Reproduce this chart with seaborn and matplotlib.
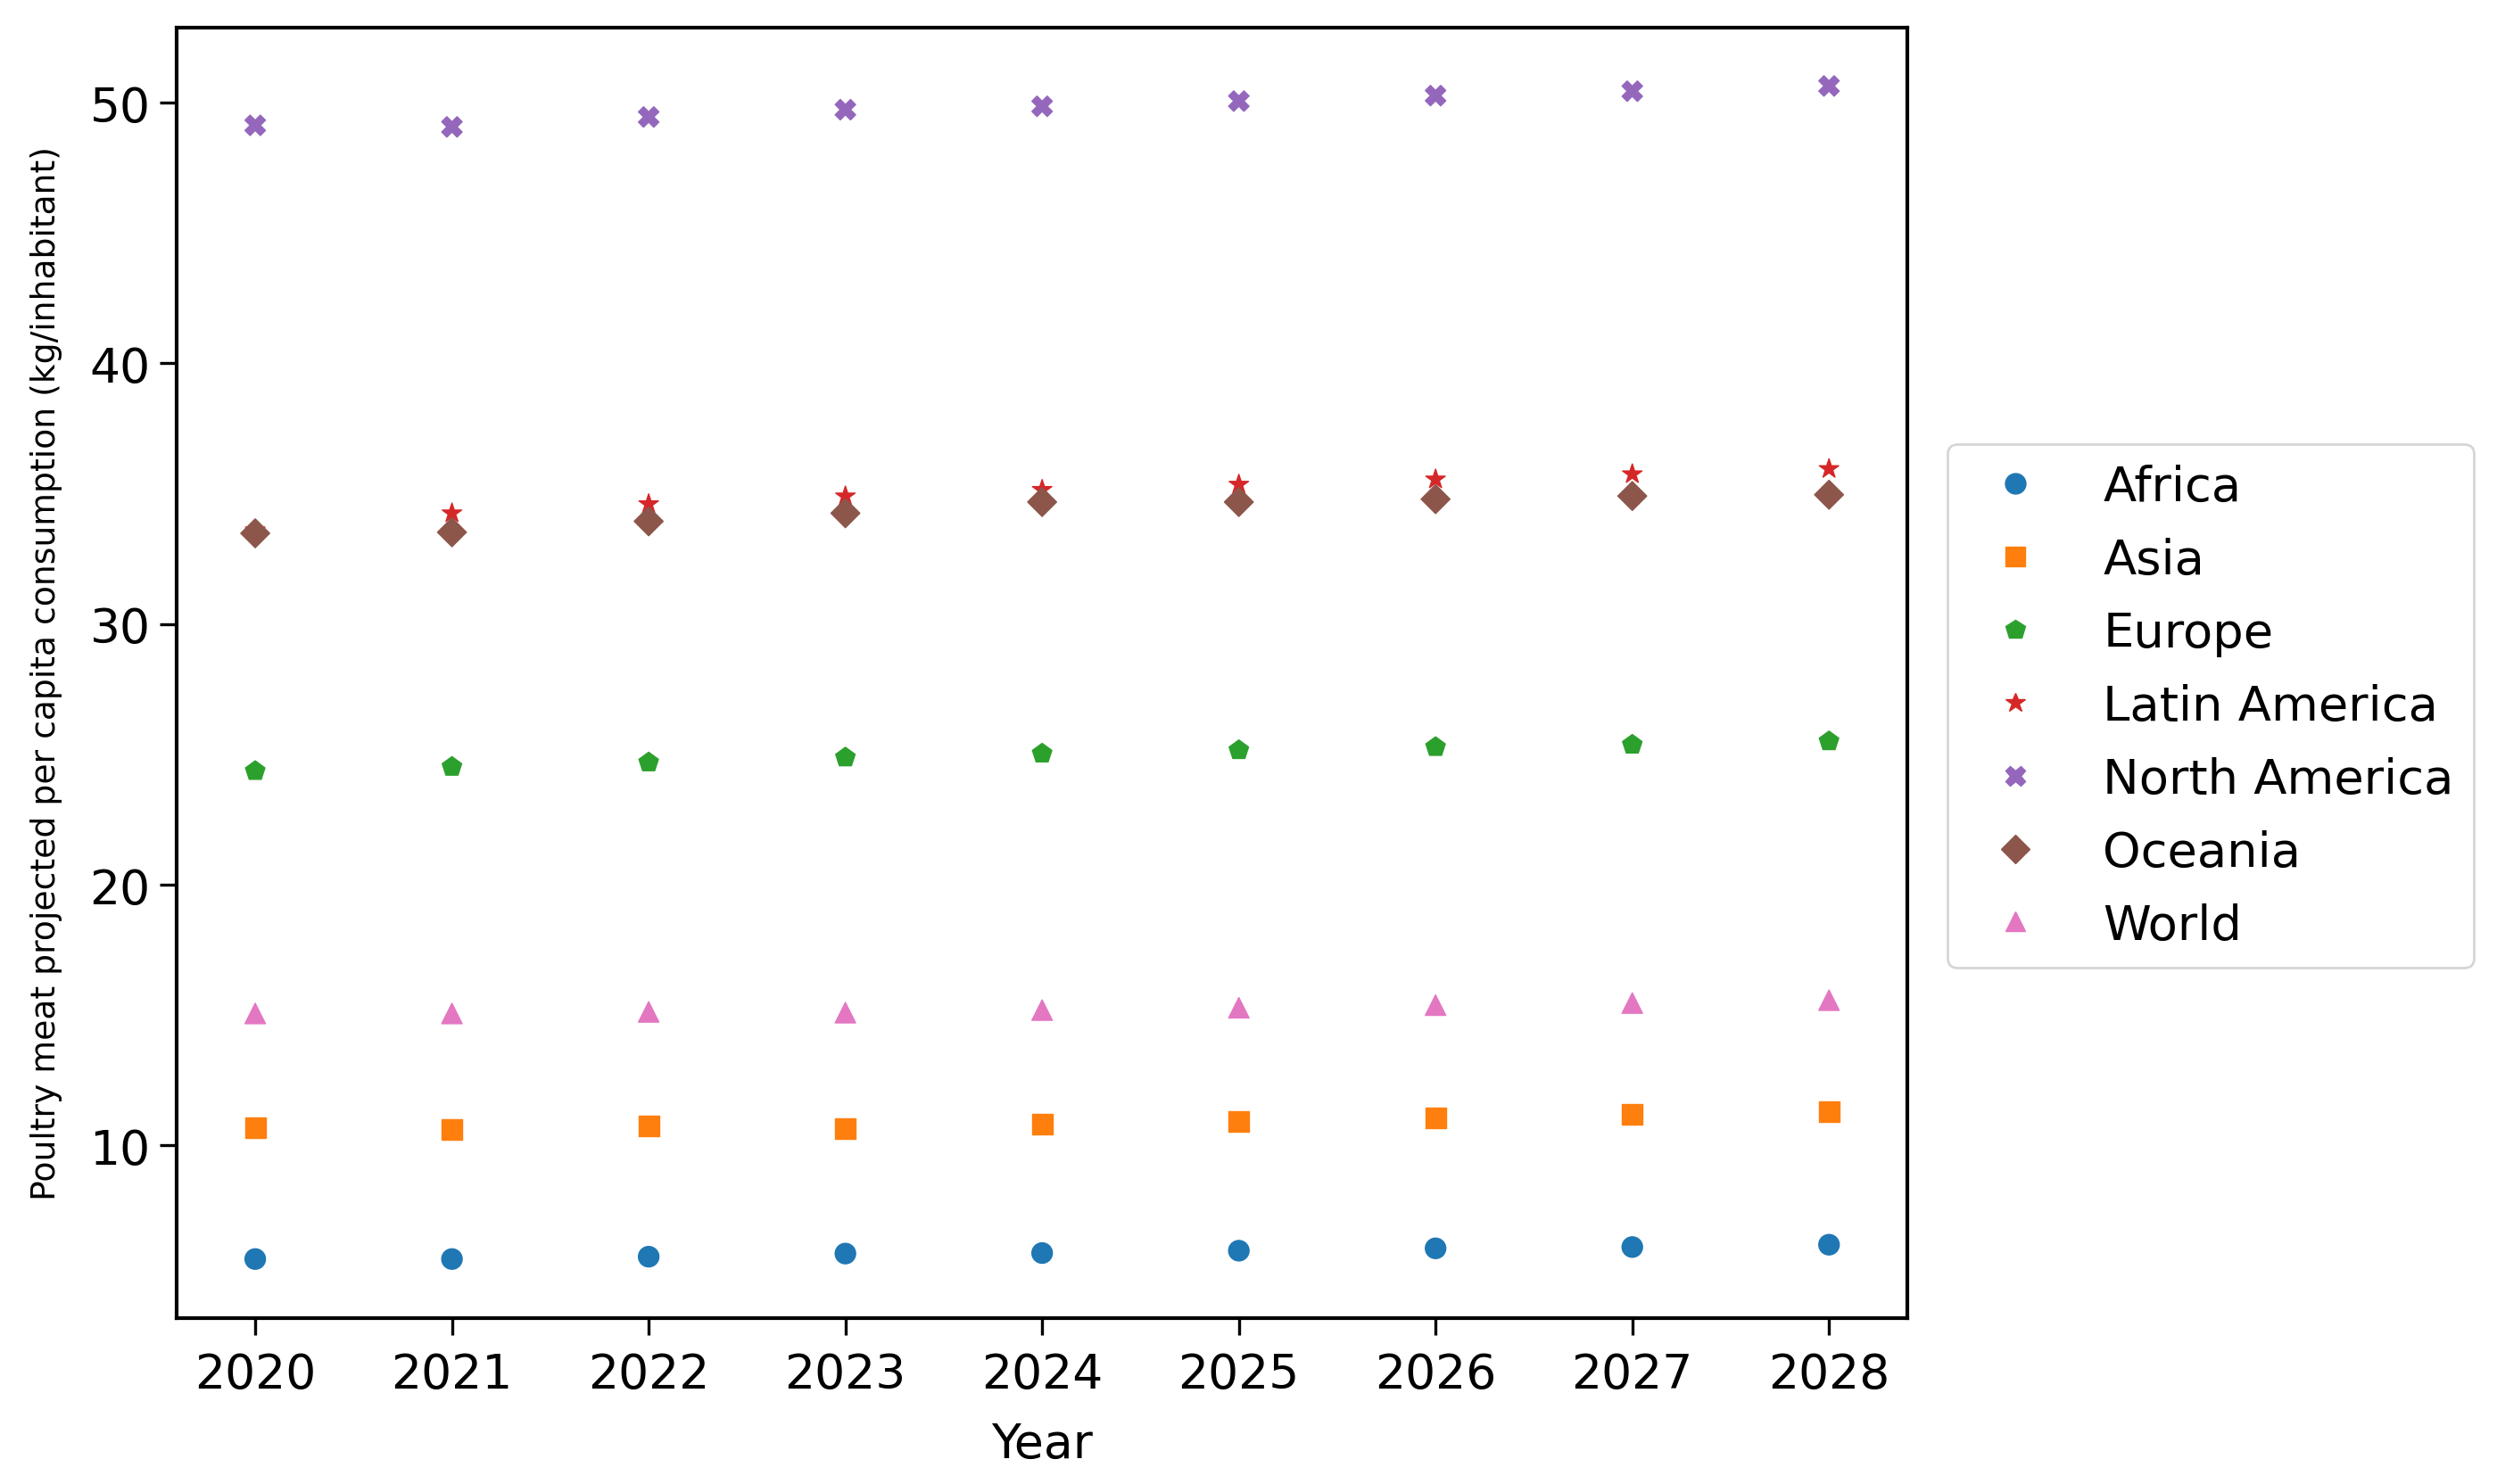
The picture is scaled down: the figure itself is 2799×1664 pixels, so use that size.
import matplotlib
matplotlib.use("Agg")
import matplotlib.pyplot as plt
import seaborn as sns
import pandas as pd

years = [2020, 2021, 2022, 2023, 2024, 2025, 2026, 2027, 2028]
regions = ["Africa", "Asia", "Europe", "Latin America", "North America", "Oceania", "World"]

africa = [5.64, 5.64, 5.73, 5.85, 5.87, 5.96, 6.05, 6.10, 6.19]
asia = [10.67, 10.62, 10.76, 10.64, 10.81, 10.93, 11.04, 11.19, 11.30]
europe = [24.36, 24.52, 24.69, 24.88, 25.03, 25.16, 25.28, 25.37, 25.50]
latin_america = [33.6, 34.25, 34.6, 34.9, 35.15, 35.35, 35.55, 35.75, 35.95]
north_america = [49.13, 49.07, 49.45, 49.73, 49.86, 50.06, 50.27, 50.44, 50.64]
oceania = [33.48, 33.52, 33.94, 34.25, 34.68, 34.68, 34.79, 34.91, 34.96]
world = [15.06, 15.06, 15.12, 15.09, 15.19, 15.28, 15.38, 15.46, 15.57]

series = [africa, asia, europe, latin_america, north_america, oceania, world]
markers = {"Africa": "o", "Asia": "s", "Europe": "p", "Latin America": "*",
           "North America": "X", "Oceania": "D", "World": "^"}

rows = []
for reg, vals in zip(regions, series):
    for y, v in zip(years, vals):
        rows.append({"Year": y, "Value": v, "Region": reg})
df = pd.DataFrame(rows)

plt.rcParams["font.family"] = ["DejaVu Sans"]
fig = plt.figure(figsize=(13.995, 8.325), dpi=200)
ax = fig.add_axes([0.0707, 0.112, 0.6933, 0.869])

palette = dict(zip(regions, sns.color_palette("tab10", 7)))
sns.scatterplot(data=df, x="Year", y="Value", hue="Region", style="Region",
                markers=markers, palette=palette, s=68, ax=ax,
                edgecolor="face", linewidth=0.5)

ax.set_xticks(years)
ax.tick_params(axis="both", labelsize=19.3, length=7, width=1.2)
ax.tick_params(axis="x", pad=6.5)
ax.set_xlabel("Year", fontsize=19.3, labelpad=9.5)
ax.set_ylabel("Poultry meat projected per capita consumption (kg/inhabitant)",
              fontsize=13.6, labelpad=11)
for sp in ax.spines.values():
    sp.set_linewidth(1.5)

leg = ax.legend(loc="center left", bbox_to_anchor=(1.009, 0.474), fontsize=19.6,
                title=None, labelspacing=0.55)

fig.savefig("out.png", dpi=200)
